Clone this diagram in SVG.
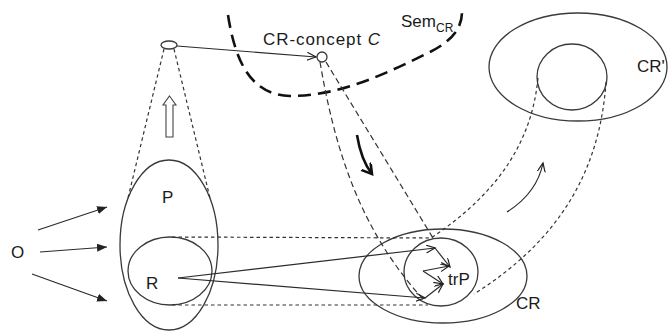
<svg xmlns="http://www.w3.org/2000/svg" width="672" height="332" viewBox="0 0 672 332">
<style>
.sh{fill:none;stroke:#3a3a3a;stroke-width:1.3}
.ln{fill:none;stroke:#2a2a2a;stroke-width:1.2}
.dot{fill:none;stroke:#333;stroke-width:1.2;stroke-dasharray:3.5 3}
.dash{fill:none;stroke:#333;stroke-width:1.2;stroke-dasharray:6 3.5}
.big{fill:none;stroke:#111;stroke-width:2.6;stroke-dasharray:13 7}
.t{font-family:"Liberation Sans",Arial,sans-serif;font-size:17px;fill:#1a1a1a}
</style>
<defs>
<marker id="open" markerUnits="userSpaceOnUse" markerWidth="12" markerHeight="10" refX="9" refY="4" orient="auto">
<path d="M0,0 L9,4 L0,8" fill="none" stroke="#222" stroke-width="1.2"/>
</marker>
<marker id="fill" markerUnits="userSpaceOnUse" markerWidth="12" markerHeight="10" refX="10" refY="4" orient="auto">
<path d="M0,0 L10,4 L0,8 z" fill="#222"/>
</marker>
<marker id="bold" markerUnits="userSpaceOnUse" markerWidth="14" markerHeight="14" refX="10" refY="6" orient="auto">
<path d="M0,0 L10,6 L0,12" fill="none" stroke="#111" stroke-width="2.6"/>
</marker>
</defs>

<g id="semcr">
<path class="big" d="M228,15 C235,60 250,95 290,96 C340,96 385,74 430,52 C452,41 462,28 462,12"/>
<text class="t" x="401" y="27">Sem<tspan font-size="12" dy="5">CR</tspan></text>
</g>

<g id="percept">
<ellipse class="sh" cx="169" cy="245" rx="49" ry="85"/>
<text class="t" x="162" y="203">P</text>
</g>

<g id="R">
<ellipse class="sh" cx="170" cy="271" rx="42" ry="34"/>
<text class="t" x="146" y="289">R</text>
</g>

<g id="O">
<text class="t" x="11" y="258">O</text>
</g>

<g id="small">
<ellipse class="sh" cx="169" cy="45" rx="8" ry="4"/>
</g>

<g id="concept">
<circle class="sh" cx="322" cy="57" r="5"/>
<text class="t" x="263" y="45" textLength="117" lengthAdjust="spacing">CR-concept <tspan font-style="italic">C</tspan></text>
</g>

<g id="CR">
<ellipse class="sh" cx="443" cy="276" rx="84" ry="47"/>
<ellipse class="sh" cx="441" cy="272" rx="37" ry="34"/>
<text class="t" x="516" y="309">CR</text>
<text class="t" x="448" y="285">trP</text>
</g>

<g id="CRprime">
<ellipse class="sh" cx="578" cy="67" rx="89" ry="54"/>
<ellipse class="sh" cx="572" cy="77" rx="35" ry="33"/>
<text class="t" x="637" y="72">CR'</text>
</g>

<g id="upArrow">
<path d="M169.5,96 L176,105 L173,105 L173,137 L166,137 L166,105 L163,105 Z" fill="#fff" stroke="#444" stroke-width="1.1"/>
</g>

<g id="connectors">
<line class="ln" x1="38" y1="230" x2="107" y2="207" marker-end="url(#fill)"/>
<line class="ln" x1="40" y1="252" x2="107" y2="247" marker-end="url(#fill)"/>
<line class="ln" x1="32" y1="274" x2="107" y2="301" marker-end="url(#fill)"/>

<line class="dot" x1="164" y1="49" x2="128" y2="198"/>
<line class="dot" x1="174" y1="49" x2="210" y2="198"/>

<line class="ln" x1="177" y1="46" x2="316" y2="57" marker-end="url(#open)"/>

<path class="dash" d="M320,62 C335,150 360,230 423,299"/>
<line class="dash" x1="326" y1="62" x2="433" y2="238"/>

<line class="dot" x1="172" y1="237" x2="433" y2="238"/>
<line class="dot" x1="172" y1="305" x2="428" y2="305"/>

<line class="ln" x1="178" y1="278" x2="435" y2="248" marker-end="url(#open)"/>
<line class="ln" x1="178" y1="278" x2="425" y2="298" marker-end="url(#open)"/>
<line class="ln" x1="435" y1="248" x2="450" y2="267" marker-end="url(#open)"/>
<line class="ln" x1="423" y1="271" x2="449" y2="266" marker-end="url(#open)"/>
<line class="ln" x1="423" y1="271" x2="443" y2="284" marker-end="url(#open)"/>
<line class="ln" x1="425" y1="298" x2="443" y2="284" marker-end="url(#open)"/>

<path class="dot" d="M538,78 C532,140 500,192 431,238"/>
<path class="dot" d="M606,82 C600,170 560,240 474,294"/>

<path class="ln" d="M507,212 Q537,193 543,163" marker-end="url(#open)"/>
<path d="M357,135 Q361,160 372,174" fill="none" stroke="#111" stroke-width="2.6" marker-end="url(#bold)"/>
</g>
</svg>
